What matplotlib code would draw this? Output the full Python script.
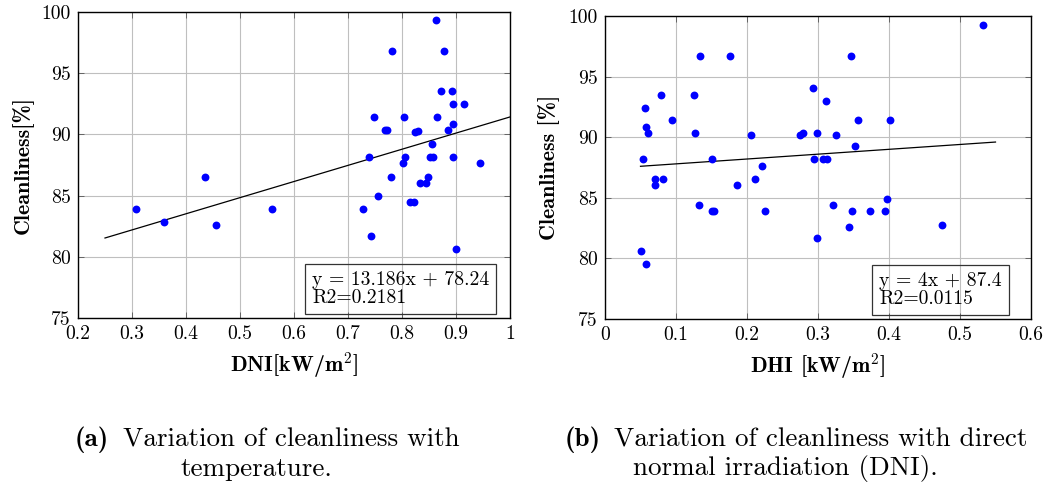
import matplotlib
matplotlib.use("Agg")
import matplotlib.pyplot as plt

plt.rcParams['font.family'] = ['cmr10']
plt.rcParams['mathtext.fontset'] = 'cm'
plt.rcParams['axes.formatter.use_mathtext'] = True

# ---- data: left panel (DNI) ----
dni_x = [0.863, 0.782, 0.878, 0.873, 0.892, 0.894, 0.914, 0.748, 0.804, 0.865,
         0.895, 0.768, 0.773, 0.824, 0.829, 0.886, 0.856, 0.739, 0.806, 0.852,
         0.858, 0.894, 0.802, 0.945, 0.436, 0.780, 0.849, 0.834, 0.845, 0.755,
         0.307, 0.560, 0.727, 0.814, 0.822, 0.359, 0.456, 0.743, 0.900]
dni_y = [99.37, 96.79, 96.79, 93.55, 93.55, 92.46, 92.46, 91.40, 91.40, 91.40,
         90.85, 90.34, 90.34, 90.20, 90.30, 90.34, 89.25, 88.16, 88.16, 88.16,
         88.16, 88.16, 87.64, 87.64, 86.55, 86.55, 86.55, 86.01, 86.01, 84.95,
         83.90, 83.90, 83.90, 84.45, 84.45, 82.81, 82.59, 81.74, 80.64]
dni_fit_x = [0.25, 1.0]
dni_slope, dni_intercept = 13.186, 78.24
dni_xticks = [0.2, 0.3, 0.4, 0.5, 0.6, 0.7, 0.8, 0.9, 1.0]
dni_xticklabels = ['0.2', '0.3', '0.4', '0.5', '0.6', '0.7', '0.8', '0.9', '1']

# ---- data: right panel (DHI) ----
dhi_x = [0.532, 0.134, 0.176, 0.346, 0.293, 0.079, 0.125, 0.311, 0.056, 0.095,
         0.357, 0.401, 0.058, 0.060, 0.127, 0.205, 0.274, 0.279, 0.298, 0.326,
         0.352, 0.053, 0.151, 0.294, 0.307, 0.313, 0.221, 0.071, 0.082, 0.211,
         0.071, 0.186, 0.397, 0.133, 0.150, 0.154, 0.225, 0.321, 0.348, 0.373,
         0.395, 0.343, 0.474, 0.298, 0.051, 0.058]
dhi_y = [99.29, 96.72, 96.72, 96.72, 94.06, 93.51, 93.51, 92.99, 92.45, 91.41,
         91.41, 91.41, 90.86, 90.32, 90.32, 90.21, 90.21, 90.32, 90.32, 90.21,
         89.24, 88.18, 88.18, 88.18, 88.18, 88.18, 87.66, 86.59, 86.59, 86.59,
         86.07, 86.07, 84.94, 84.42, 83.90, 83.90, 83.90, 84.42, 83.90, 83.90,
         83.90, 82.57, 82.79, 81.71, 80.64, 79.56]
dhi_fit_x = [0.05, 0.55]
dhi_slope, dhi_intercept = 4.0, 87.4
dhi_xticks = [0, 0.1, 0.2, 0.3, 0.4, 0.5, 0.6]
dhi_xticklabels = ['0', '0.1', '0.2', '0.3', '0.4', '0.5', '0.6']

yticks = [75, 80, 85, 90, 95, 100]
yticklabels = ['75', '80', '85', '90', '95', '100']

W, H = 1045, 493
fig = plt.figure(figsize=(W / 100, H / 100), dpi=100)


def px_axes(left, top, right, bottom):
    return fig.add_axes([left / W, (H - bottom) / H, (right - left) / W, (bottom - top) / H])


FS_TICK = 14.2
FS_LABEL = 15.8
FS_CAP = 19.5


def style(ax, xlim, xticks, xticklabels):
    ax.set_xlim(*xlim)
    ax.set_ylim(75, 100)
    ax.set_xticks(xticks)
    ax.set_xticklabels(xticklabels)
    ax.set_yticks(yticks)
    ax.set_yticklabels(yticklabels)
    ax.grid(True, color='#bfbfbf', linewidth=0.8)
    ax.set_axisbelow(True)
    ax.tick_params(direction='in', top=True, right=True, length=4, width=0.6,
                   labelsize=FS_TICK, pad=5, color='#555555')
    for s in ax.spines.values():
        s.set_linewidth(1.0)
        s.set_color('black')


box_style = dict(boxstyle='square,pad=0.36', facecolor='none', edgecolor='#333333', linewidth=0.9)

# left
ax1 = px_axes(78, 12, 510, 318)
style(ax1, (0.2, 1.0), dni_xticks, dni_xticklabels)
ax1.scatter(dni_x, dni_y, s=32, color='#0000ff', zorder=3, linewidths=0)
ax1.plot(dni_fit_x, [dni_slope * v + dni_intercept for v in dni_fit_x],
         color='black', linewidth=0.9, zorder=2)
ax1.set_xlabel(r'DNI[kW/m$^{2}$]', fontfamily='cmb10', fontsize=FS_LABEL, labelpad=5)
ax1.set_ylabel('Cleanliness[%]', fontfamily='cmb10', fontsize=FS_LABEL, labelpad=6)
ax1.text(0.542, 0.036, 'y = 13.186x + 78.24\nR2=0.2181', transform=ax1.transAxes,
         ha='left', va='bottom', fontsize=FS_TICK, linespacing=1.0, bbox=box_style)

# right
ax2 = px_axes(605, 16, 1031, 319)
style(ax2, (0, 0.6), dhi_xticks, dhi_xticklabels)
ax2.scatter(dhi_x, dhi_y, s=32, color='#0000ff', zorder=3, linewidths=0)
ax2.plot(dhi_fit_x, [dhi_slope * v + dhi_intercept for v in dhi_fit_x],
         color='black', linewidth=0.9, zorder=2)
ax2.set_xlabel(r'DHI [kW/m$^{2}$]', fontfamily='cmb10', fontsize=FS_LABEL, labelpad=5)
ax2.set_ylabel('Cleanliness [%]', fontfamily='cmb10', fontsize=FS_LABEL, labelpad=6)
ax2.text(0.643, 0.037, 'y = 4x + 87.4\nR2=0.0115', transform=ax2.transAxes,
         ha='left', va='bottom', fontsize=FS_TICK, linespacing=1.0, bbox=box_style)

# captions (positioned in pixels)
def cap(xpx, ypx, s, bold=False, ha='left'):
    fig.text(xpx / W, 1 - ypx / H, s, ha=ha, va='center', fontsize=FS_CAP,
             fontfamily='cmb10' if bold else 'cmr10')

cap(75, 440, '(a)', bold=True)
cap(123, 440, 'Variation of cleanliness with')
cap(256, 469, 'temperature.', ha='center')
cap(565, 440, '(b)', bold=True)
cap(614, 440, 'Variation of cleanliness with direct')
cap(785, 469, 'normal irradiation (DNI).', ha='center')

fig.savefig('out.png', dpi=100)
